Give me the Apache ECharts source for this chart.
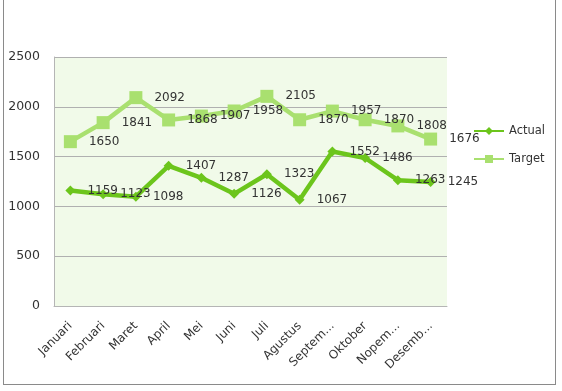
<!DOCTYPE html>
<html>
<head>
<meta charset="utf-8">
<script src="https://cdn.jsdelivr.net/npm/echarts@6/dist/echarts.min.js"></script>
<style>
  html, body { margin: 0; padding: 0; background: #fff; }
  #frame { position: absolute; left: 3px; top: 0; width: 553px; height: 385px; border: 1px solid #8a8a8a; border-top: 0; box-sizing: border-box; }
  #chart { position: absolute; left: 0; top: 0; width: 562px; height: 391px; }
</style>
</head>
<body>
<div id="frame"></div>
<div id="chart"></div>
<script>
var months = ['Januari', 'Februari', 'Maret', 'April', 'Mei', 'Juni', 'Juli', 'Agustus', 'Septem...', 'Oktober', 'Nopem...', 'Desemb...'];
var actual = [1159, 1123, 1098, 1407, 1287, 1126, 1323, 1067, 1552, 1486, 1263, 1245];
var target = [1650, 1841, 2092, 1868, 1907, 1958, 2105, 1870, 1957, 1870, 1808, 1676];

var font = 'DejaVu Sans';
var labelStyle = {
    show: true,
    position: 'right',
    distance: 12,
    color: '#333',
    fontFamily: font,
    fontSize: 12
};

var chart = echarts.init(document.getElementById('chart'));
chart.setOption({
    animation: false,
    grid: {
        left: 54, right: 115, top: 57, bottom: 85,
        show: true,
        backgroundColor: '#f1fae9',
        borderWidth: 0
    },
    legend: {
        orient: 'vertical',
        left: 473, top: 125,
        padding: 0,
        itemGap: 16,
        itemWidth: 30, itemHeight: 10,
        textStyle: { color: '#333', fontFamily: font, fontSize: 11.5 },
        data: ['Actual', 'Target']
    },
    xAxis: {
        type: 'category',
        data: months,
        boundaryGap: true,
        axisLine: { lineStyle: { color: '#b5b5b5' } },
        axisTick: { show: false },
        axisLabel: { rotate: 45, interval: 0, color: '#333', fontFamily: font, fontSize: 12, margin: 18 }
    },
    yAxis: {
        type: 'value',
        min: 0, max: 2500, interval: 500,
        axisLine: { show: true, lineStyle: { color: '#b5b5b5' } },
        axisTick: { show: false },
        axisLabel: { color: '#333', fontFamily: font, fontSize: 12.5, margin: 14, formatter: function (v) { return String(v); } },
        splitLine: { lineStyle: { color: '#b0b0b0' } }
    },
    series: [{
        name: 'Actual',
        type: 'line',
        data: actual,
        symbol: 'diamond',
        symbolSize: 10,
        z: 3,
        lineStyle: { color: '#6cc51c', width: 4.5 },
        itemStyle: { color: '#6cc51c' },
        label: labelStyle
    }, {
        name: 'Target',
        type: 'line',
        data: target,
        symbol: 'rect',
        symbolSize: 13,
        z: 2,
        lineStyle: { color: '#a9e06f', width: 4.5 },
        itemStyle: { color: '#a9e06f' },
        label: labelStyle
    }]
});
</script>
</body>
</html>
